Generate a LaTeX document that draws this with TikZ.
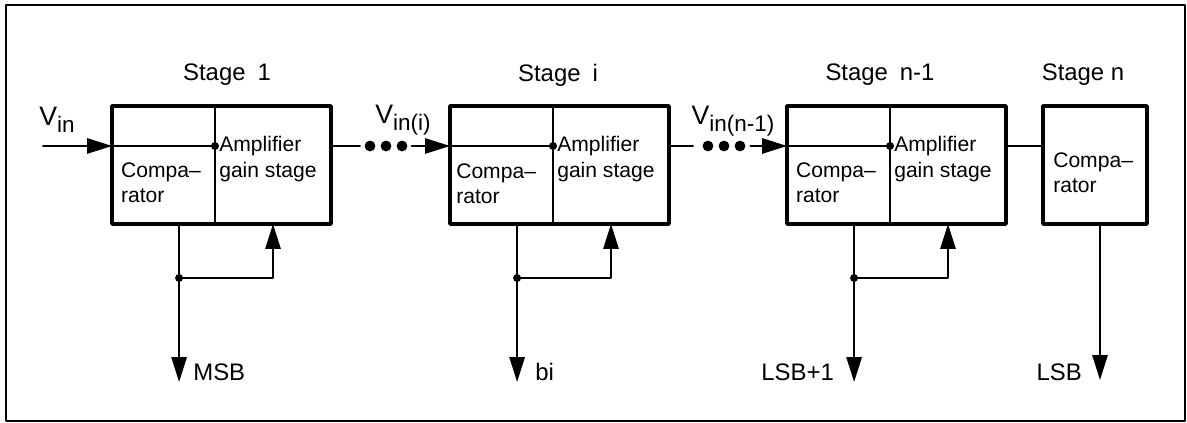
\documentclass[tikz,border=0pt]{standalone}
\usepackage{fontspec}
\setmainfont{Liberation Sans}
\usetikzlibrary{arrows.meta,positioning}

\newcommand{\vsig}[1]{{\fontsize{19}{22}\selectfont V}\raisebox{-5pt}{\fontsize{16}{18}\selectfont #1}}

\begin{document}
\begin{tikzpicture}[line cap=round, line join=round,
    part/.style={draw, line width=1.3pt, minimum height=2.95cm, inner sep=0pt, outer sep=0pt},
    comp/.style={part, minimum width=2.575cm},
    amp/.style={part, minimum width=2.9cm},
    boxtext/.style={align=left, inner sep=0pt, font=\fontsize{15}{18}\selectfont},
    stagelabel/.style={font=\fontsize{17}{20}\selectfont},
    bitlabel/.style={inner sep=0pt, font=\fontsize{17}{20}\selectfont},
    wire/.style={line width=1.4pt},
    tip/.style={-{Triangle[length=0.62cm,width=0.38cm]}},
    jdot/.style={circle, fill, inner sep=0pt, minimum size=0.2cm},
    bigdot/.style={circle, fill, inner sep=0pt, minimum size=0.27cm}]

    \useasboundingbox (0,0) rectangle (29.675,10.575);

    % Outer frame
    \draw[line width=1.4pt] (0.15,0.05) rectangle (29.625,10.45);

    % Stage 1
    \node[stagelabel] (s1) at (5.675,8.7) {Stage\enspace 1};
    \node[comp, anchor=north west] (c1) at (2.8,7.925) {};
    \node[amp, right=0pt of c1] (a1) {};
    \draw[line width=2.6pt] (c1.north west) rectangle (a1.south east);
    \node[boxtext, anchor=west] (c1t) at ([xshift=0.22cm,yshift=-0.45cm]c1.west) {Compa--\\rator};
    \node[boxtext, anchor=west] (a1t) at ([xshift=0.1cm,yshift=0.15cm]a1.west) {Amplifier\\gain stage};
    \draw[wire] ([yshift=0.475cm]c1.west) -- ([yshift=0.475cm]a1.west) node[jdot] (d1) {};

    % Stage i
    \node[stagelabel] (si) at (13.95,8.7) {Stage\enspace i};
    \node[comp, anchor=north west] (ci) at (11.25,7.925) {};
    \node[amp, right=0pt of ci] (ai) {};
    \draw[line width=2.6pt] (ci.north west) rectangle (ai.south east);
    \node[boxtext, anchor=west] (cit) at ([xshift=0.15cm,yshift=-0.475cm]ci.west) {Compa--\\rator};
    \node[boxtext, anchor=west] (ait) at ([xshift=0.1cm,yshift=0.15cm]ai.west) {Amplifier\\gain stage};
    \draw[wire] ([yshift=0.475cm]ci.west) -- ([yshift=0.475cm]ai.west) node[jdot] (di) {};

    % Stage n-1
    \node[stagelabel] (sm) at (22.0,8.7) {Stage\enspace n-1};
    \node[comp, anchor=north west] (cm) at (19.675,7.925) {};
    \node[amp, right=0pt of cm] (am) {};
    \draw[line width=2.6pt] (cm.north west) rectangle (am.south east);
    \node[boxtext, anchor=west] (cmt) at ([xshift=0.22cm,yshift=-0.45cm]cm.west) {Compa--\\rator};
    \node[boxtext, anchor=west] (amt) at ([xshift=0.1cm,yshift=0.15cm]am.west) {Amplifier\\gain stage};
    \draw[wire] ([yshift=0.475cm]cm.west) -- ([yshift=0.475cm]am.west) node[jdot] (dm) {};

    % Stage n
    \node[stagelabel] (sn) at (27.075,8.7) {Stage n};
    \node[part, line width=2.6pt, minimum width=2.6cm, anchor=north west] (cn) at (26.075,7.925) {};
    \node[boxtext, anchor=west] (cnt) at ([xshift=0.25cm,yshift=-0.2cm]cn.west) {Compa--\\rator};

    % Inputs along the pipeline
    \coordinate (vin) at (1.075,6.925);
    \draw[wire,tip] (vin) -- ([yshift=0.475cm]c1.west);
    \node (vinl) at (1.425,7.575) {\vsig{in}};

    \draw[wire] ([yshift=0.475cm]a1.east) -- ++(0.725,0) coordinate (e1);
    \foreach \x [count=\k] in {9.25,9.65,10.05}
        \node[bigdot] (p\k) at (\x,6.925) {};
    \draw[wire,tip] ([xshift=0.1cm]p3.east) -- ([yshift=0.475cm]ci.west);
    \node (vinil) at (10.075,7.575) {\vsig{in(i)}};

    \draw[wire] ([yshift=0.475cm]ai.east) -- ++(0.6,0) coordinate (ei);
    \foreach \x [count=\k] in {17.7,18.1,18.5}
        \node[bigdot] (q\k) at (\x,6.925) {};
    \draw[wire,tip] ([xshift=0.12cm]q3.east) -- ([yshift=0.475cm]cm.west);
    \node (vinml) at (18.325,7.55) {\vsig{in(n-1)}};

    \draw[wire] ([yshift=0.475cm]am.east) -- ([yshift=0.475cm]cn.west);

    % Bit outputs and feedback
    \coordinate (o1) at ([xshift=0.39cm]c1.south);
    \coordinate (j1) at ([yshift=-1.35cm]o1);
    \draw[wire,tip] (o1) -- ([yshift=-3.95cm]o1) coordinate (msb);
    \draw[wire,tip] (j1) -| (a1.south);
    \node[jdot] (j1d) at (j1) {};
    \node[bitlabel, anchor=west] (msbl) at ([xshift=0.35cm,yshift=0.25cm]msb) {MSB};

    \coordinate (oi) at ([xshift=0.39cm]ci.south);
    \coordinate (ji) at ([yshift=-1.35cm]oi);
    \draw[wire,tip] (oi) -- ([yshift=-3.95cm]oi) coordinate (bi);
    \draw[wire,tip] (ji) -| (ai.south);
    \node[jdot] (jid) at (ji) {};
    \node[bitlabel, anchor=west] (bil) at ([xshift=0.45cm,yshift=0.25cm]bi) {bi};

    \coordinate (om) at ([xshift=0.39cm]cm.south);
    \coordinate (jm) at ([yshift=-1.35cm]om);
    \draw[wire,tip] (om) -- ([yshift=-3.95cm]om) coordinate (lsbp);
    \draw[wire,tip] (jm) -| (am.south);
    \node[jdot] (jmd) at (jm) {};
    \node[bitlabel, anchor=east] (lsbpl) at ([xshift=-0.5cm,yshift=0.25cm]lsbp) {LSB+1};

    \coordinate (on) at ([xshift=0.125cm]cn.south);
    \draw[wire,tip] (on) -- ([yshift=-3.9cm]on) coordinate (lsb);
    \node[bitlabel, anchor=east] (lsbl) at ([xshift=-0.45cm,yshift=0.2cm]lsb) {LSB};

\end{tikzpicture}
\end{document}
